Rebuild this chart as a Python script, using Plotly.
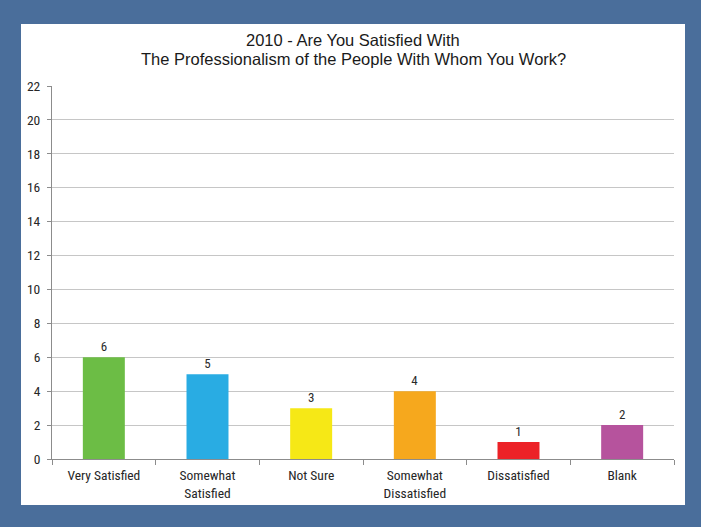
import plotly.graph_objects as go

categories = ["Very Satisfied", "Somewhat<br>Satisfied", "Not Sure",
              "Somewhat<br>Dissatisfied", "Dissatisfied", "Blank"]
values = [6, 5, 3, 4, 1, 2]
colors = ["#6cbd45", "#29ace3", "#f6e816", "#f6a81d", "#ec2227", "#b6539d"]
y_ticks = [0, 2, 4, 6, 8, 10, 12, 14, 16, 18, 20, 22]
title_lines = ["2010 - Are You Satisfied With",
               "The Professionalism of the People With Whom You Work?"]

W, H = 701, 527
L, R, T, B = 52, 674, 86, 459

narrow = "Liberation Sans Narrow, Arial Narrow, Roboto Condensed, sans-serif"
sans = "Liberation Sans, Arial, sans-serif"

fig = go.Figure(go.Bar(
    x=categories, y=values, marker_color=colors, marker_line_width=0,
    text=[str(v) for v in values], textposition="outside",
    textfont=dict(family=narrow, size=13, color="#2a2a2a"),
    cliponaxis=False, hoverinfo="skip",
))

def px_x(p):
    return (p - L) / (R - L)

def px_y(p):
    return (B - p) / (B - T)

fig.add_shape(type="rect", xref="paper", yref="paper",
              x0=px_x(21), x1=px_x(685), y0=px_y(505), y1=px_y(24),
              fillcolor="white", line=dict(width=0), layer="below")

for line, ypix in zip(title_lines, [40, 58.5]):
    fig.add_annotation(text=line, xref="paper", yref="paper",
                       x=px_x(353), y=px_y(ypix), xanchor="center", yanchor="middle",
                       showarrow=False,
                       font=dict(family=sans, size=16.5, color="#1a1a1a"))

fig.update_layout(
    width=W, height=H,
    margin=dict(l=L, r=W - R, t=T, b=H - B, pad=0),
    paper_bgcolor="#4a6e9b",
    plot_bgcolor="rgba(0,0,0,0)",
    showlegend=False,
    bargap=0.595,
    xaxis=dict(
        showline=True, linecolor="#8c8c8c", linewidth=1,
        tickson="boundaries", ticks="outside", ticklen=5, tickcolor="#8c8c8c",
        tickfont=dict(family=narrow, size=13.5, color="#262626"),
        ticklabelstandoff=4,
        showgrid=False,
    ),
    yaxis=dict(
        range=[0, 22], tickvals=y_ticks, showline=True, linecolor="#8c8c8c", linewidth=1,
        ticks="outside", ticklen=4, tickcolor="#8c8c8c",
        gridcolor="#c6c6c6", gridwidth=1, zeroline=False,
        tickfont=dict(family=narrow, size=13.5, color="#262626"),
        ticklabelstandoff=4,
    ),
)

fig.write_html("out.html", config={"displayModeBar": False},
               post_script="document.body.style.margin='0';document.body.style.padding='0';")
